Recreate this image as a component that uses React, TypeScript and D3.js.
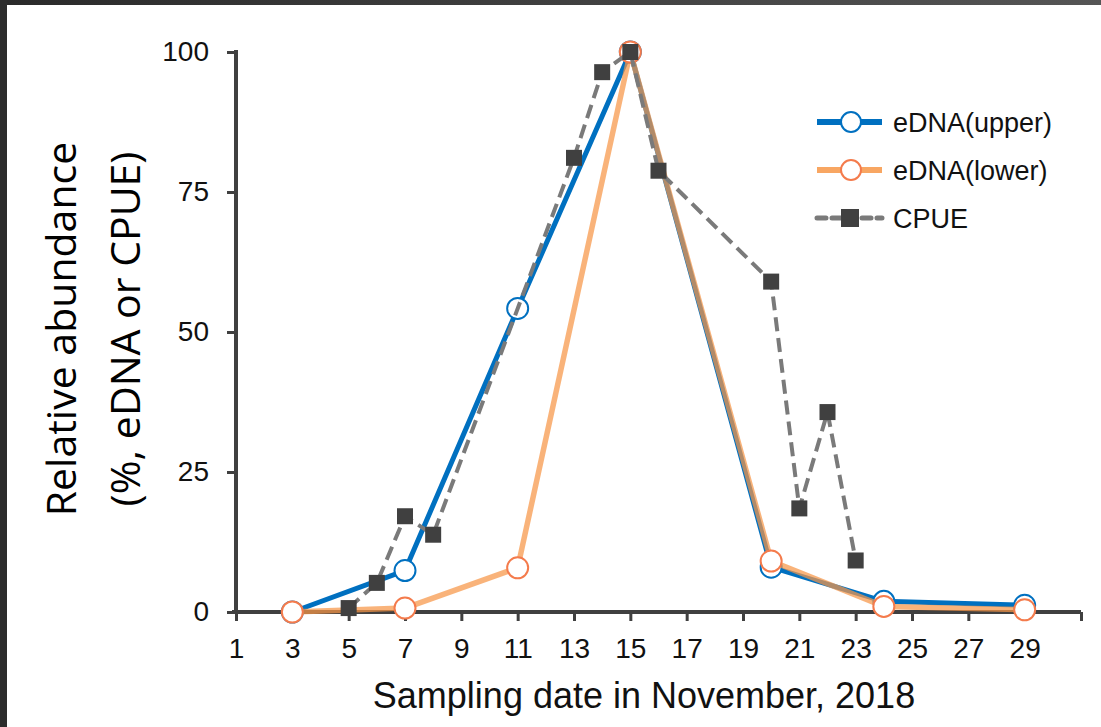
import React, { useEffect, useRef } from 'react'
import * as d3 from 'd3'

// sampling dates (day of November) and relative abundance, %
const ednaDays = [3, 7, 11, 15, 20, 24, 29]
const ednaUpper = [0, 7.4, 54.2, 100, 8.0, 1.9, 1.2]
const ednaLower = [0, 0.7, 7.9, 100, 9.1, 1.0, 0.4]
const cpueDays = [5, 6, 7, 8, 13, 14, 15, 16, 20, 21, 22, 23]
const cpueValues = [0.7, 5.2, 17.1, 13.8, 81.1, 96.4, 100, 78.8, 59.0, 18.5, 35.7, 9.2]

const xTicks = d3.range(1, 32, 2)
const yTicks = [0, 25, 50, 75, 100]
const legendLabels = ['eDNA(upper)', 'eDNA(lower)', 'CPUE']

const W = 1101
const H = 727
const AXIS = '#404040'
const BLUE = '#0070C0'
const ORANGE = '#F79646'
const ORANGE_MARK = '#F47B4C'
const GREY = '#7a7a7a'
const TICK_FONT = '"Liberation Sans", Arial, sans-serif'

export default function App() {
  const ref = useRef<SVGSVGElement>(null)

  useEffect(() => {
    document.body.style.margin = '0'
    const svg = d3.select(ref.current)
    svg.selectAll('*').remove()

    // dark frame of the screenshot
    const grad = svg.append('defs').append('linearGradient').attr('id', 'frame')
    grad.append('stop').attr('offset', '0%').attr('stop-color', '#2a2a2a')
    grad.append('stop').attr('offset', '100%').attr('stop-color', '#555')
    svg.append('rect').attr('width', W).attr('height', H).attr('fill', '#fff')
    svg.append('rect').attr('width', W).attr('height', 5).attr('fill', 'url(#frame)')
    svg.append('rect').attr('width', 7).attr('height', H).attr('fill', '#2c2c2c')

    const x = d3.scaleLinear().domain([1, 31]).range([236, 1081])
    const y = d3.scaleLinear().domain([0, 100]).range([612, 52])

    // axes
    const xAxis = d3.axisBottom(x)
      .tickValues(xTicks.concat([31]))
      .tickFormat(d => (d === 31 ? '' : String(d)))
      .tickSize(9)
      .tickSizeOuter(0)
      .tickPadding(17)
    const yAxis = d3.axisLeft(y)
      .tickValues(yTicks)
      .tickSize(9)
      .tickSizeOuter(0)
      .tickPadding(18)

    const gx = svg.append('g').attr('transform', `translate(0, ${y(0)})`).call(xAxis)
    const gy = svg.append('g').attr('transform', `translate(${x(1)}, 0)`).call(yAxis)
    ;[gx, gy].forEach(g => {
      g.select('.domain').attr('stroke', AXIS).attr('stroke-width', 4)
      g.selectAll('.tick line').attr('stroke', AXIS).attr('stroke-width', 3)
      g.selectAll('.tick text')
        .attr('fill', '#111')
        .style('font-family', TICK_FONT)
        .style('font-size', '28px')
    })
    gx.select('.domain').attr('d', `M${x(1) - 4},0H${x(31)}`)
    gy.select('.domain').attr('d', `M0,${y(0)}V${y(100) - 2}`)

    // axis titles
    svg.append('text')
      .attr('x', 644).attr('y', 708)
      .attr('text-anchor', 'middle')
      .style('font-family', TICK_FONT)
      .style('font-size', '36px')
      .attr('fill', '#111')
      .text('Sampling date in November, 2018')

    const yTitle = svg.append('g').attr('transform', 'translate(0, 329) rotate(-90)')
    ;['Relative abundance', '(%, eDNA or CPUE)'].forEach((t, i) => {
      yTitle.append('text')
        .attr('x', 0).attr('y', 76 + i * 64)
        .attr('text-anchor', 'middle')
        .style('font-family', '"Open Sans", "Noto Sans", sans-serif')
        .style('font-size', '41px')
        .attr('fill', '#000')
        .text(t)
    })

    const line = d3.line<[number, number]>().x(d => x(d[0])).y(d => y(d[1]))

    // eDNA upper
    const upper = ednaDays.map((d, i) => [d, ednaUpper[i]] as [number, number])
    svg.append('path').attr('d', line(upper)).attr('fill', 'none')
      .attr('stroke', BLUE).attr('stroke-width', 5).attr('stroke-linejoin', 'round')
    svg.append('g').selectAll('circle').data(upper).enter().append('circle')
      .attr('cx', d => x(d[0])).attr('cy', d => y(d[1])).attr('r', 10.5)
      .attr('fill', '#fff').attr('stroke', BLUE).attr('stroke-width', 2)

    // eDNA lower
    const lower = ednaDays.map((d, i) => [d, ednaLower[i]] as [number, number])
    svg.append('path').attr('d', line(lower)).attr('fill', 'none')
      .attr('stroke', ORANGE).attr('stroke-opacity', 0.72)
      .attr('stroke-width', 5.5).attr('stroke-linejoin', 'round')
    svg.append('g').selectAll('circle').data(lower).enter().append('circle')
      .attr('cx', d => x(d[0])).attr('cy', d => y(d[1])).attr('r', 10.5)
      .attr('fill', '#fff').attr('stroke', ORANGE_MARK).attr('stroke-width', 2)

    // CPUE
    const cpue = cpueDays.map((d, i) => [d, cpueValues[i]] as [number, number])
    svg.append('path').attr('d', line(cpue)).attr('fill', 'none')
      .attr('stroke', GREY).attr('stroke-width', 4).attr('stroke-dasharray', '14 7')
    svg.append('g').selectAll('rect').data(cpue).enter().append('rect')
      .attr('x', d => x(d[0]) - 8).attr('y', d => y(d[1]) - 8)
      .attr('width', 16).attr('height', 16).attr('fill', AXIS)

    // legend
    const legend = svg.append('g')
    legendLabels.forEach((label, i) => {
      const cy = 122 + i * 48
      const row = legend.append('g')
      if (i < 2) {
        row.append('line').attr('x1', 817).attr('x2', 882).attr('y1', cy).attr('y2', cy)
          .attr('stroke', i === 0 ? BLUE : ORANGE).attr('stroke-width', 6)
          .attr('stroke-opacity', i === 0 ? 1 : 0.85)
        row.append('circle').attr('cx', 851).attr('cy', cy).attr('r', 10)
          .attr('fill', '#fff').attr('stroke', i === 0 ? BLUE : ORANGE_MARK).attr('stroke-width', 2)
      } else {
        row.append('line').attr('x1', 817).attr('x2', 882).attr('y1', cy).attr('y2', cy)
          .attr('stroke', GREY).attr('stroke-width', 5).attr('stroke-dasharray', '9 6')
          .attr('stroke-linecap', 'round')
        row.append('rect').attr('x', 841).attr('y', cy - 9).attr('width', 18).attr('height', 18)
          .attr('fill', AXIS)
      }
      row.append('text').attr('x', 893).attr('y', cy + 10)
        .style('font-family', TICK_FONT).style('font-size', '27px')
        .attr('fill', '#111').text(label)
    })
  }, [])

  return <svg ref={ref} width={W} height={H} style={{ display: 'block' }} />
}
